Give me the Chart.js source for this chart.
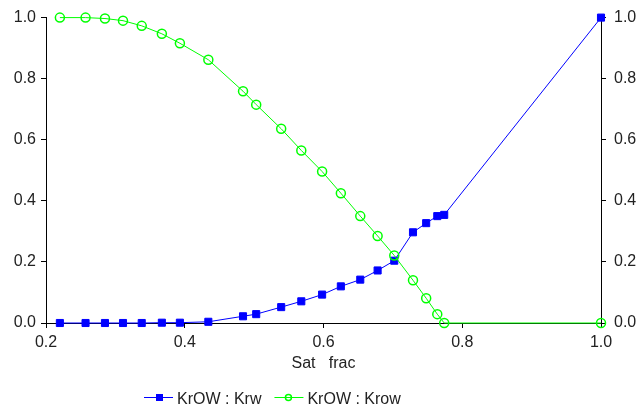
<!DOCTYPE html>
<html>
<head>
<meta charset="utf-8">
<script src="https://cdn.jsdelivr.net/npm/chart.js@4"></script>
<style>
  html, body { margin: 0; padding: 0; background: #fff; }
  #wrap { width: 640px; height: 407px; }
</style>
</head>
<body>
<div id="wrap"><canvas id="relPerm" width="640" height="407"></canvas></div>
<script>
// saturation fraction (x) and the two relative permeability curves
const satFrac = [0.22, 0.257, 0.285, 0.311, 0.338, 0.367, 0.393, 0.434, 0.484, 0.503, 0.539,
                 0.568, 0.598, 0.625, 0.653, 0.678, 0.702, 0.729, 0.748, 0.764, 0.774, 1.0];
const krw = [0, 0, 0, 0, 0, 0.001, 0.001, 0.004, 0.022, 0.029, 0.052,
             0.071, 0.093, 0.12, 0.142, 0.172, 0.204, 0.297, 0.327, 0.35, 0.354, 1.0];
const krow = [1.0, 1.0, 0.997, 0.99, 0.973, 0.947, 0.916, 0.862, 0.759, 0.715, 0.636,
              0.565, 0.496, 0.425, 0.35, 0.285, 0.221, 0.14, 0.081, 0.029, 0, 0];
const seriesNames = ['KrOW : Krw', 'KrOW : Krow'];
const xTicks = [0.2, 0.4, 0.6, 0.8, 1.0];
const yTicks = [0.0, 0.2, 0.4, 0.6, 0.8, 1.0];

const fontFamily = '"Liberation Sans", Arial, sans-serif';
Chart.defaults.font.family = fontFamily;
Chart.defaults.font.size = 16;
Chart.defaults.color = '#222';

const toPoints = (ys) => satFrac.map((x, i) => ({ x: x, y: ys[i] }));

// legend drawn as line + marker like the original plot
const lineLegend = {
  id: 'lineLegend',
  afterDraw(chart) {
    const ctx = chart.ctx;
    const y = 397;
    let x = 144;
    ctx.save();
    ctx.font = '16px ' + fontFamily;
    ctx.textBaseline = 'alphabetic';
    chart.data.datasets.forEach((ds, i) => {
      ctx.strokeStyle = ds.borderColor;
      ctx.lineWidth = 1;
      ctx.beginPath();
      ctx.moveTo(x, y + 0.5);
      ctx.lineTo(x + 29, y + 0.5);
      ctx.stroke();
      if (ds.pointStyle === 'rect') {
        ctx.fillStyle = ds.borderColor;
        ctx.fillRect(x + 12, y - 3, 7, 7);
      } else {
        ctx.lineWidth = 1.5;
        ctx.beginPath();
        ctx.arc(x + 14, y + 0.5, 3, 0, Math.PI * 2);
        ctx.stroke();
      }
      ctx.fillStyle = '#222';
      ctx.fillText(ds.label, x + 33, y + 6.5);
      x += 33 + ctx.measureText(ds.label).width + 13;
    });
    ctx.restore();
  }
};

const axisLine = { display: true, color: '#000', width: 1 };
const tickMarks = { display: true, drawOnChartArea: false, drawTicks: true, tickLength: 5, color: '#000' };

new Chart(document.getElementById('relPerm'), {
  type: 'line',
  data: {
    datasets: [
      {
        label: seriesNames[0],
        data: toPoints(krw),
        borderColor: '#0000ff',
        backgroundColor: '#0000ff',
        borderWidth: 1,
        pointStyle: 'rect',
        pointRadius: 5,
        pointBorderWidth: 1,
        clip: false,
        order: 2
      },
      {
        label: seriesNames[1],
        data: toPoints(krow),
        borderColor: '#00ff00',
        backgroundColor: 'rgba(0,0,0,0)',
        borderWidth: 1,
        pointStyle: 'circle',
        pointRadius: 4.5,
        pointBorderWidth: 1.5,
        clip: false,
        order: 1
      }
    ]
  },
  options: {
    responsive: false,
    animation: false,
    layout: { padding: { top: 17, left: 0, right: 0, bottom: 34 } },
    plugins: {
      legend: { display: false },
      tooltip: { enabled: false }
    },
    scales: {
      x: {
        type: 'linear',
        min: 0.2,
        max: 1.0,
        afterBuildTicks: (s) => { s.ticks = xTicks.map(v => ({ value: v })); },
        afterFit: (s) => { s.height = 50; },
        ticks: { padding: 5, callback: v => v.toFixed(1) },
        grid: tickMarks,
        border: axisLine,
        title: { display: true, text: 'Sat   frac', padding: { top: 2, bottom: 0 } }
      },
      y: {
        position: 'left',
        min: 0,
        max: 1,
        afterBuildTicks: (s) => { s.ticks = yTicks.map(v => ({ value: v })); },
        afterFit: (s) => { s.width = 46; },
        ticks: { padding: 5, callback: v => v.toFixed(1) },
        grid: tickMarks,
        border: axisLine
      },
      y2: {
        position: 'right',
        min: 0,
        max: 1,
        afterBuildTicks: (s) => { s.ticks = yTicks.map(v => ({ value: v })); },
        afterFit: (s) => { s.width = 39; },
        ticks: { padding: 8, callback: v => v.toFixed(1) },
        grid: tickMarks,
        border: axisLine
      }
    }
  },
  plugins: [lineLegend]
});
</script>
</body>
</html>
